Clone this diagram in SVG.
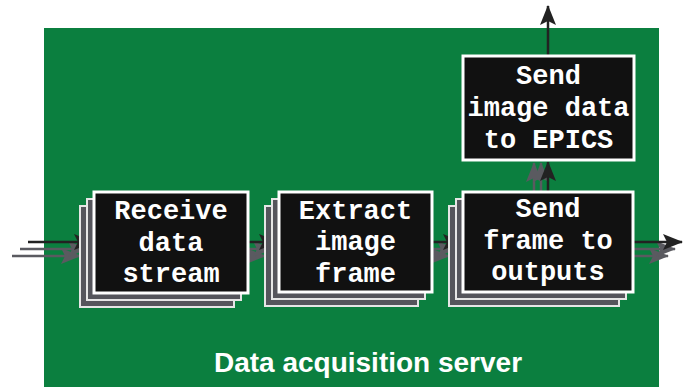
<svg xmlns="http://www.w3.org/2000/svg" width="683" height="387" viewBox="0 0 683 387">
<defs>
<style>
.bg{fill:#0b7f3f}
.front{fill:#111111;stroke:#ffffff;stroke-width:3}
.back{fill:#55555c;stroke:#e6e6e6;stroke-width:2}
.t{font-family:"Liberation Mono","Courier New",monospace;font-weight:bold;font-size:27px;fill:#ffffff;text-anchor:middle}
.lbl{font-family:"Liberation Sans",Arial,sans-serif;font-weight:bold;font-size:28px;fill:#ffffff;text-anchor:middle}
.cb{stroke:#222222;stroke-width:2.5;fill:none;marker-end:url(#ab)}
.cg{stroke:#5a5a60;stroke-width:2.5;fill:none;marker-end:url(#ag)}
</style>
<marker id="ab" markerUnits="userSpaceOnUse" markerWidth="20" markerHeight="16" refX="19" refY="8" orient="auto">
<path d="M0,0 L20,8 L0,16 L4,8 Z" fill="#222222"/>
</marker>
<marker id="ag" markerUnits="userSpaceOnUse" markerWidth="20" markerHeight="16" refX="19" refY="8" orient="auto">
<path d="M0,0 L20,8 L0,16 L4,8 Z" fill="#5a5a60"/>
</marker>
</defs>
<rect class="bg" x="44" y="28" width="615" height="362"/>
<g id="connectors">
<line class="cg" x1="12" y1="256" x2="80" y2="256"/>
<line class="cg" x1="20" y1="249" x2="87" y2="249"/>
<line class="cb" x1="28" y1="242" x2="93" y2="242"/>
<line class="cg" x1="234" y1="256" x2="265" y2="256"/>
<line class="cg" x1="241" y1="249" x2="272" y2="249"/>
<line class="cb" x1="248" y1="242" x2="278" y2="242"/>
<line class="cg" x1="418" y1="256" x2="449" y2="256"/>
<line class="cg" x1="425" y1="249" x2="456" y2="249"/>
<line class="cb" x1="432" y1="242" x2="462" y2="242"/>
<line class="cg" x1="619" y1="256" x2="668" y2="256"/>
<line class="cg" x1="626" y1="249" x2="675" y2="249"/>
<line class="cb" x1="633" y1="242" x2="682" y2="242"/>
<line class="cg" x1="534" y1="200" x2="534" y2="163"/>
<line class="cg" x1="541" y1="196" x2="541" y2="163"/>
<line class="cb" x1="548" y1="192" x2="548" y2="162"/>
<line class="cb" x1="548" y1="56" x2="548" y2="6"/>
</g>
<g id="receive">
<rect class="back" x="80" y="206" width="154" height="101"/>
<rect class="back" x="87" y="199" width="154" height="101"/>
<rect class="front" x="94" y="192" width="154" height="101"/>
<text class="t" x="171" y="219">Receive</text>
<text class="t" x="171" y="251">data</text>
<text class="t" x="171" y="282">stream</text>
</g>
<g id="extract">
<rect class="back" x="265" y="206" width="153" height="100"/>
<rect class="back" x="272" y="199" width="153" height="100"/>
<rect class="front" x="279" y="192" width="153" height="100"/>
<text class="t" x="355.5" y="219">Extract</text>
<text class="t" x="355.5" y="250">image</text>
<text class="t" x="355.5" y="282">frame</text>
</g>
<g id="sendframe">
<rect class="back" x="449" y="206" width="170" height="100"/>
<rect class="back" x="456" y="199" width="170" height="100"/>
<rect class="front" x="463" y="192" width="170" height="100"/>
<text class="t" x="548" y="217">Send</text>
<text class="t" x="548" y="249">frame to</text>
<text class="t" x="548" y="280">outputs</text>
</g>
<g id="epics">
<rect class="front" x="463" y="56" width="171" height="104"/>
<text class="t" x="548.5" y="84">Send</text>
<text class="t" x="548.5" y="116">image data</text>
<text class="t" x="548.5" y="148">to EPICS</text>
</g>
<g id="server">
<text class="lbl" x="368" y="372">Data acquisition server</text>
</g>
</svg>
